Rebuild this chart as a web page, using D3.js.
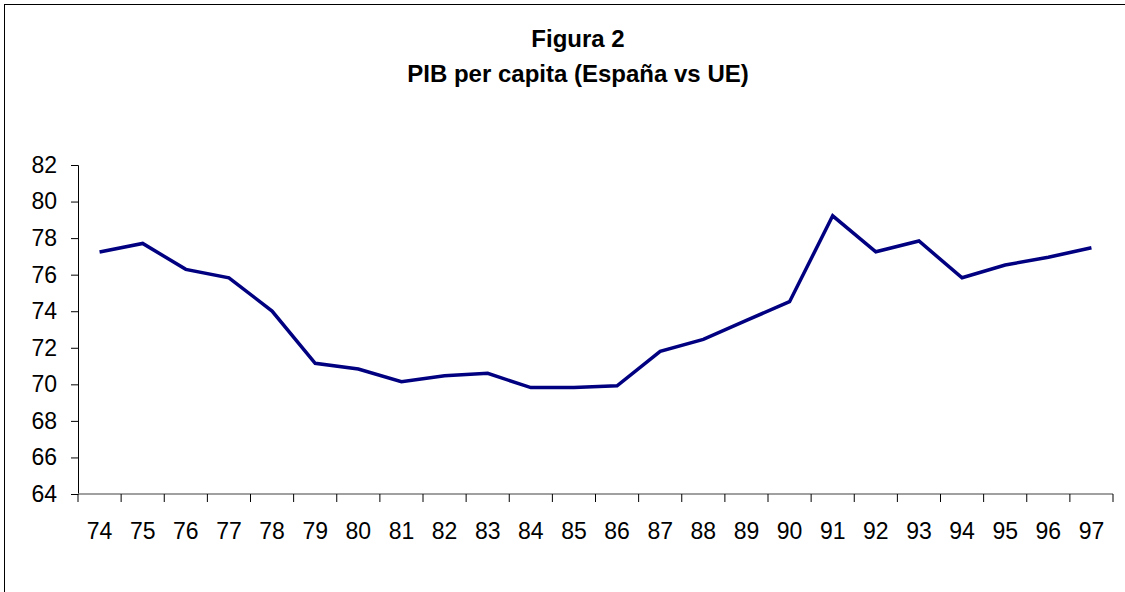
<!DOCTYPE html>
<html>
<head>
<meta charset="utf-8">
<script src="https://cdn.jsdelivr.net/npm/d3@7"></script>
<style>
  html, body { margin: 0; padding: 0; background: #fff; }
  svg { display: block; }
  text { font-family: "Liberation Sans", Arial, sans-serif; fill: #000; }
</style>
</head>
<body>
<script>
const years = ["74","75","76","77","78","79","80","81","82","83","84","85","86","87","88","89","90","91","92","93","94","95","96","97"];
const pibEspanaVsUE = [77.24,77.71,76.29,75.83,74.01,71.15,70.84,70.14,70.47,70.60,69.82,69.82,69.92,71.80,72.46,73.50,74.52,79.22,77.25,77.84,75.83,76.53,76.95,77.47];
const yTicks = [64,66,68,70,72,74,76,78,80,82];
const titleText = "Figura 2";
const subtitleText = "PIB per capita (España vs UE)";

const W = 1125, H = 592;
const svg = d3.select("body").append("svg").attr("width", W).attr("height", H);

// chart frame (extends past the picture on the right and bottom)
svg.append("rect")
  .attr("x", 4.5).attr("y", 4.5)
  .attr("width", W + 20).attr("height", H + 20)
  .attr("fill", "#fff").attr("stroke", "#000").attr("stroke-width", 1);

const x = d3.scaleBand().domain(years).range([78, 1113]).padding(0);
const y = d3.scaleLinear().domain([64, 82]).range([494, 165]);

// titles
svg.append("text").attr("x", 578).attr("y", 47)
  .attr("text-anchor", "middle").attr("font-weight", "bold").attr("font-size", 24)
  .text(titleText);
svg.append("text").attr("x", 578).attr("y", 82)
  .attr("text-anchor", "middle").attr("font-weight", "bold").attr("font-size", 24)
  .text(subtitleText);

// y axis
const yAxis = svg.append("g").attr("transform", "translate(78,0)")
  .call(d3.axisLeft(y).tickValues(yTicks).tickSize(7).tickPadding(14).tickFormat(d3.format("d")));
yAxis.select(".domain").attr("stroke", "#000");
yAxis.selectAll(".tick line").attr("stroke", "#000");
yAxis.selectAll("text").attr("font-size", 23).attr("fill", "#000")
  .style("font-family", "'Liberation Sans', Arial, sans-serif");

// x axis (ticks on category boundaries)
const xAxisG = svg.append("g").attr("transform", "translate(0,494)");
xAxisG.append("line").attr("x1", 78).attr("x2", 1113).attr("y1", 0).attr("y2", 0)
  .attr("stroke", "#808080").attr("stroke-width", 1.5);
const bounds = years.map(d => x(d)).concat([x(years[years.length - 1]) + x.bandwidth()]);
xAxisG.selectAll("line.tk").data(bounds).enter().append("line").attr("class", "tk")
  .attr("x1", d => d).attr("x2", d => d).attr("y1", 0).attr("y2", 8)
  .attr("stroke", "#000");
xAxisG.selectAll("text.lbl").data(years).enter().append("text").attr("class", "lbl")
  .attr("x", d => x(d) + x.bandwidth() / 2).attr("y", 45)
  .attr("text-anchor", "middle").attr("font-size", 23)
  .text(d => d);

// line
const line = d3.line()
  .x((d, i) => x(years[i]) + x.bandwidth() / 2)
  .y(d => y(d));
svg.append("path").datum(pibEspanaVsUE)
  .attr("fill", "none").attr("stroke", "#000080").attr("stroke-width", 3.5)
  .attr("stroke-linejoin", "miter").attr("d", line);
</script>
</body>
</html>
